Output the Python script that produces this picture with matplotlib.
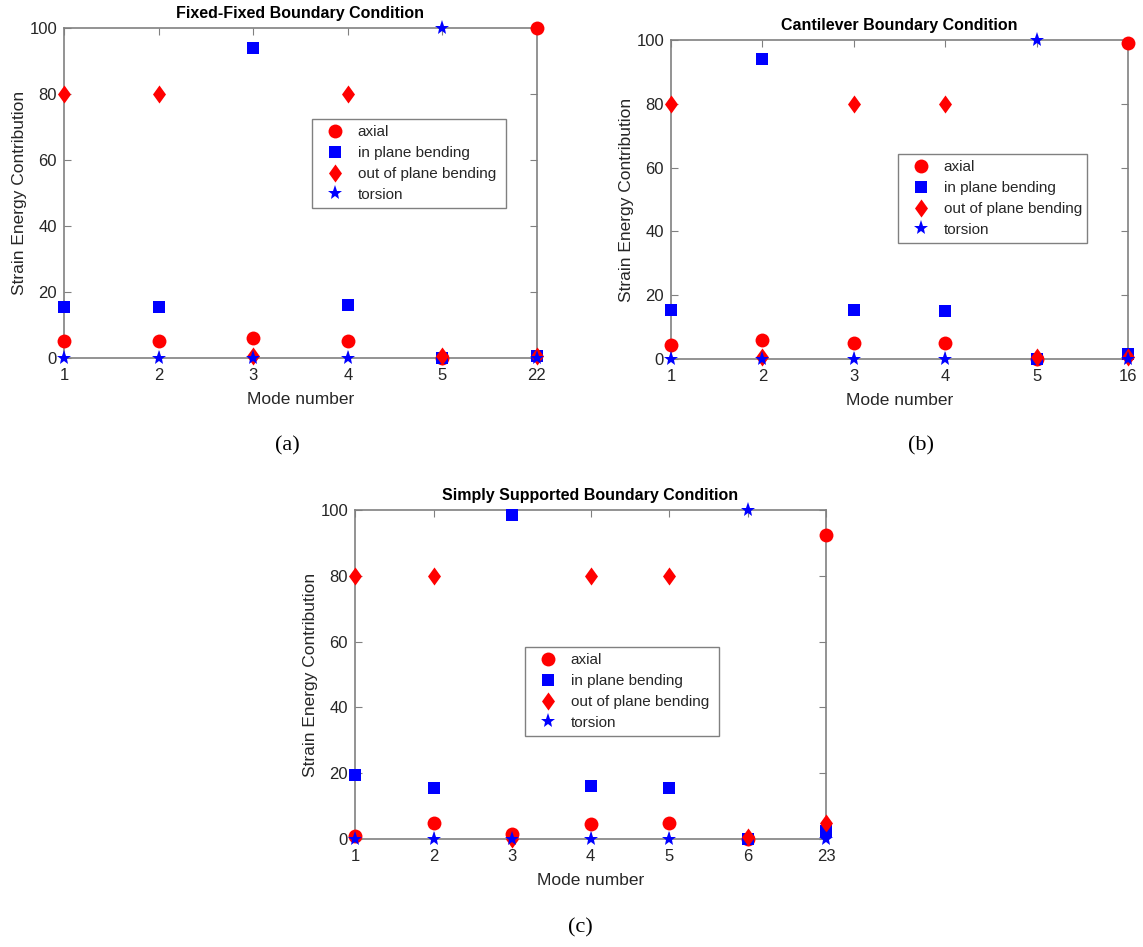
import matplotlib
matplotlib.use("Agg")
import matplotlib.pyplot as plt

# ---- data ----
modes_a = ["1", "2", "3", "4", "5", "22"]
axial_a = [5, 5, 6, 5, 0, 100]
inplane_a = [15.5, 15.5, 94, 16, 0, 0.5]
outplane_a = [80, 80, 0.5, 80, 0.5, 0.5]
torsion_a = [0, 0, 0, 0, 100, 0]

modes_b = ["1", "2", "3", "4", "5", "16"]
axial_b = [4.5, 6, 5, 5, 0, 99]
inplane_b = [15.5, 94, 15.5, 15, 0, 1.5]
outplane_b = [80, 0.5, 80, 80, 0.5, 0.5]
torsion_b = [0, 0, 0, 0, 100, 0]

modes_c = ["1", "2", "3", "4", "5", "6", "23"]
axial_c = [1, 5, 1.5, 4.5, 5, 0, 92.5]
inplane_c = [19.5, 15.5, 98.5, 16, 15.5, 0, 2.5]
outplane_c = [80, 80, 0, 80, 80, 0.5, 5]
torsion_c = [0, 0, 0, 0, 0, 100, 0]

titles = ["Fixed-Fixed Boundary Condition", "Cantilever Boundary Condition",
          "Simply Supported Boundary Condition"]
captions = ["(a)", "(b)", "(c)"]
series_labels = ["axial", "in plane bending", "out of plane bending", "torsion"]

plt.rcParams['font.family'] = ['Liberation Sans', 'DejaVu Sans']

fig = plt.figure(figsize=(11.43, 9.47), dpi=100)
W, H = 1143, 947

def px_axes(l, t, r, b):
    return fig.add_axes([l / W, 1 - b / H, (r - l) / W, (b - t) / H])

panels = [
    (px_axes(64, 28, 537, 358), modes_a, axial_a, inplane_a, outplane_a, torsion_a,
     (312, 119, 506, 208), (287, 446)),
    (px_axes(671, 40, 1128, 359), modes_b, axial_b, inplane_b, outplane_b, torsion_b,
     (898, 156, 1087, 241), (921, 446)),
    (px_axes(355, 510, 826, 839), modes_c, axial_c, inplane_c, outplane_c, torsion_c,
     (525, 647, 719, 736), (580, 928)),
]

# MATLAB-like diamond (taller than wide)
diamond = [(0, 1), (0.72, 0), (0, -1), (-0.72, 0), (0, 1)]

edge = '#808080'
tcol = '#262626'
for i, (ax, modes, ax_v, ip_v, op_v, to_v, lbox, cap) in enumerate(panels):
    x = list(range(len(modes)))
    ax.plot(x, ax_v, 'o', color='red', ms=10, mew=0, clip_on=False, label=series_labels[0], zorder=3)
    ax.plot(x, ip_v, 's', color='blue', ms=8, mew=0, clip_on=False, label=series_labels[1], zorder=3)
    ax.plot(x, op_v, marker=diamond, ls='none', color='red', ms=13, mew=0, clip_on=False,
            label=series_labels[2], zorder=3)
    ax.plot(x, to_v, '*', color='blue', ms=11, mew=0, clip_on=False, label=series_labels[3], zorder=3)
    ax.set_xlim(0, len(modes) - 1)
    ax.set_ylim(0, 100)
    ax.set_xticks(x)
    ax.set_xticklabels(modes)
    ax.set_yticks([0, 20, 40, 60, 80, 100])
    ax.tick_params(direction='in', top=True, right=True, length=5, width=0.8,
                   colors=edge, labelcolor=tcol, labelsize=12)
    ax.tick_params(axis='x', pad=7)
    ax.tick_params(axis='y', pad=5)
    for s in ax.spines.values():
        s.set_color(edge)
        s.set_linewidth(1.2)
    ax.set_xlabel("Mode number", fontsize=12.5, color=tcol, labelpad=7)
    ax.set_ylabel("Strain Energy Contribution", fontsize=12.5, color=tcol, labelpad=2)
    ax.set_title(titles[i], fontsize=11.5, fontweight='bold', color='black', pad=7)
    l, t, r, b = lbox
    leg = ax.legend(loc='center left',
                    bbox_to_anchor=(l / W, 1 - b / H, (r - l) / W, (b - t) / H),
                    bbox_transform=fig.transFigure, mode='expand',
                    fontsize=11, frameon=True, fancybox=False, framealpha=1,
                    borderaxespad=0, handletextpad=0.4, labelspacing=0.45,
                    borderpad=0.4, handlelength=2.2)
    leg.set_zorder(10)
    leg.get_frame().set_edgecolor(edge)
    leg.get_frame().set_linewidth(1.0)
    for txt in leg.get_texts():
        txt.set_color(tcol)
    fig.text(cap[0] / W, 1 - cap[1] / H, captions[i], ha='center', va='center',
             fontsize=16, family=['Liberation Serif', 'DejaVu Serif'], color='black')

fig.savefig("out.png", dpi=100)
